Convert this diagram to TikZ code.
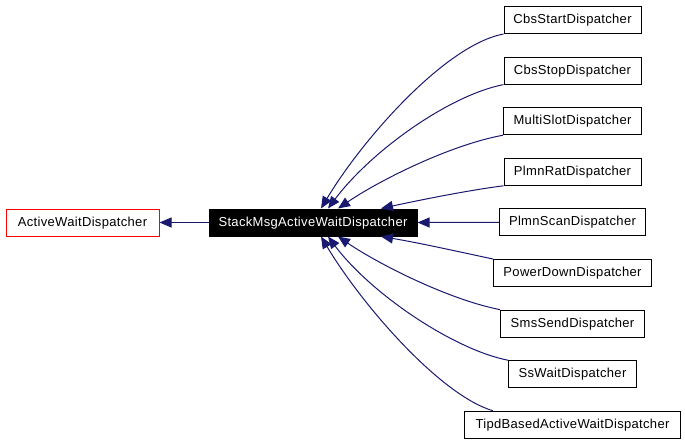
\documentclass[tikz,border=0pt]{standalone}
\usepackage{fontspec}
\setmainfont[LetterSpace=2.5]{Liberation Sans}
\usetikzlibrary{arrows.meta, positioning}
\definecolor{edgeblue}{HTML}{191970}

\begin{document}
\begin{tikzpicture}[
        x=1pt, y=-1pt,
        node distance=22.6pt and 49pt,
        every node/.style={draw, line width=1pt, minimum height=27pt, inner sep=2pt,
            text height=9.5pt, text depth=2.5pt, font=\fontsize{13}{15}\selectfont},
        line width=1pt,
        derived/.style={->, draw=edgeblue},
        >={Triangle[length=12pt,width=10pt]} % Graphviz style filled heads
    ]
        \useasboundingbox (0,0) rectangle (685,445);

        % Define the central class and its base
        \node (stack) [fill=black, text=white, minimum width=208pt] at (313,222.5) {StackMsgActiveWaitDispatcher};
        \node (active) [draw=red, minimum width=153pt, left=of stack] {ActiveWaitDispatcher};

        % Define the derived classes on the right
        \node (cbsstart)  [minimum width=137pt] at (572.5,20) {CbsStartDispatcher};
        \node (cbsstop)   [minimum width=137pt, below=of cbsstart]  {CbsStopDispatcher};
        \node (multislot) [minimum width=138pt, below=of cbsstop]   {MultiSlotDispatcher};
        \node (plmnrat)   [minimum width=137pt, below=of multislot] {PlmnRatDispatcher};
        \node (plmnscan)  [minimum width=146pt, below=of plmnrat]   {PlmnScanDispatcher};
        \node (powerdown) [minimum width=158pt, below=of plmnscan]  {PowerDownDispatcher};
        \node (smssend)   [minimum width=144pt, below=of powerdown] {SmsSendDispatcher};
        \node (sswait)    [minimum width=128pt, below=of smssend]   {SsWaitDispatcher};
        \node (tipd)      [minimum width=216pt, below=of sswait]    {TipdBasedActiveWaitDispatcher};

        % Draw the inheritance to the base class
        \draw[derived] (stack.west) -- (active.east);

        % Draw the upper derived classes
        \draw[derived] (cbsstart.south west)  .. controls (445,45) and (362,140) .. ([xshift=8pt]stack.north);
        \draw[derived] (cbsstop.south west)   .. controls (450,95) and (372,150) .. ([xshift=15pt]stack.north);
        \draw[derived] (multislot.south west) .. controls (450,145) and (380,180) .. ([xshift=25pt]stack.north);
        \draw[derived] (plmnrat.south west)   .. controls (470,190) and (420,200) .. ([xshift=68pt]stack.north);
        \draw[derived] (plmnscan.west) -- (stack.east);

        % Draw the lower derived classes
        \draw[derived] (powerdown.north west) .. controls (460,252) and (420,243) .. ([xshift=68pt]stack.south);
        \draw[derived] (smssend.north west)   .. controls (450,300) and (380,265) .. ([xshift=25pt]stack.south);
        \draw[derived] (sswait.north west)    .. controls (455,350) and (372,295) .. ([xshift=15pt]stack.south);
        \draw[derived] ([xshift=29pt]tipd.north west) .. controls (440,395) and (362,305) .. ([xshift=8pt]stack.south);

    \end{tikzpicture}
\end{document}
